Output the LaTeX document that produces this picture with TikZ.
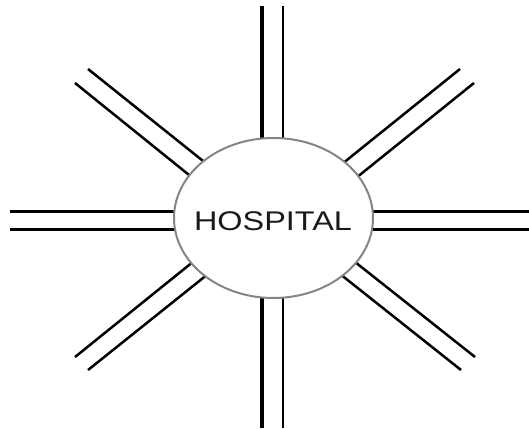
\documentclass[tikz,border=0pt]{standalone}
\usepackage{graphicx}
\usepackage{fontspec}
\setmainfont{Liberation Sans}
\usetikzlibrary{shapes.geometric}
\definecolor{rim}{HTML}{858585}
\definecolor{ink}{HTML}{1A1A1A}
\begin{document}
\begin{tikzpicture}[x=1pt,y=-1pt,
  road/.style={line width=2.5pt,black},
  roadthick/.style={line width=3.2pt,black},
  roadthin/.style={line width=2.2pt,black},
  hub/.style={ellipse,draw=rim,line width=2pt,fill=white,minimum width=199pt,minimum height=160pt,inner sep=0pt},
  lbl/.style={font=\fontsize{27}{27}\selectfont,text=ink,inner sep=0pt}]
\useasboundingbox (0,0) rectangle (529,428);
% outer and inner ends
\coordinate (t1o) at (262,6);   \coordinate (t1i) at (262,150);
\coordinate (t2o) at (283,6);   \coordinate (t2i) at (283,150);
\coordinate (b1o) at (262,428); \coordinate (b1i) at (262,286);
\coordinate (b2o) at (283,428); \coordinate (b2i) at (283,286);
\coordinate (l1o) at (10,211.7); \coordinate (l1i) at (186,211.7);
\coordinate (l2o) at (10,229.5); \coordinate (l2i) at (186,229.5);
\coordinate (r1o) at (529,211.7); \coordinate (r1i) at (362,211.7);
\coordinate (r2o) at (529,229.5); \coordinate (r2i) at (362,229.5);
\coordinate (ul1o) at (88,69);  \coordinate (ul1i) at (211,167.3);
\coordinate (ul2o) at (75,83);  \coordinate (ul2i) at (197,181.4);
\coordinate (ur1o) at (460,69); \coordinate (ur1i) at (337,168);
\coordinate (ur2o) at (474,83); \coordinate (ur2i) at (351,182);
\coordinate (ll1o) at (75,357); \coordinate (ll1i) at (199,257);
\coordinate (ll2o) at (88,370); \coordinate (ll2i) at (213,270);
\coordinate (lr1o) at (475,357); \coordinate (lr1i) at (350,258);
\coordinate (lr2o) at (461,370); \coordinate (lr2i) at (335,270);
\draw[roadthick] (t1o) -- (t1i);
\draw[roadthin] (t2o) -- (t2i);
\draw[roadthick] (b1o) -- (b1i);
\draw[roadthin] (b2o) -- (b2i);
\draw[roadthick] (l1o) -- (l1i);
\draw[roadthin] (l2o) -- (l2i);
\draw[roadthick] (r1o) -- (r1i);
\draw[roadthin] (r2o) -- (r2i);
\draw[road] (ul1o) -- (ul1i);
\draw[road] (ul2o) -- (ul2i);
\draw[road] (ur1o) -- (ur1i);
\draw[road] (ur2o) -- (ur2i);
\draw[road] (ll1o) -- (ll1i);
\draw[road] (ll2o) -- (ll2i);
\draw[road] (lr1o) -- (lr1i);
\draw[road] (lr2o) -- (lr2i);
\node[hub] (H) at (273.5,218) {};
\node[lbl] (T) at (273,221.3) {\scalebox{1.2}[1]{HOSPITAL}};
\end{tikzpicture}
\end{document}
